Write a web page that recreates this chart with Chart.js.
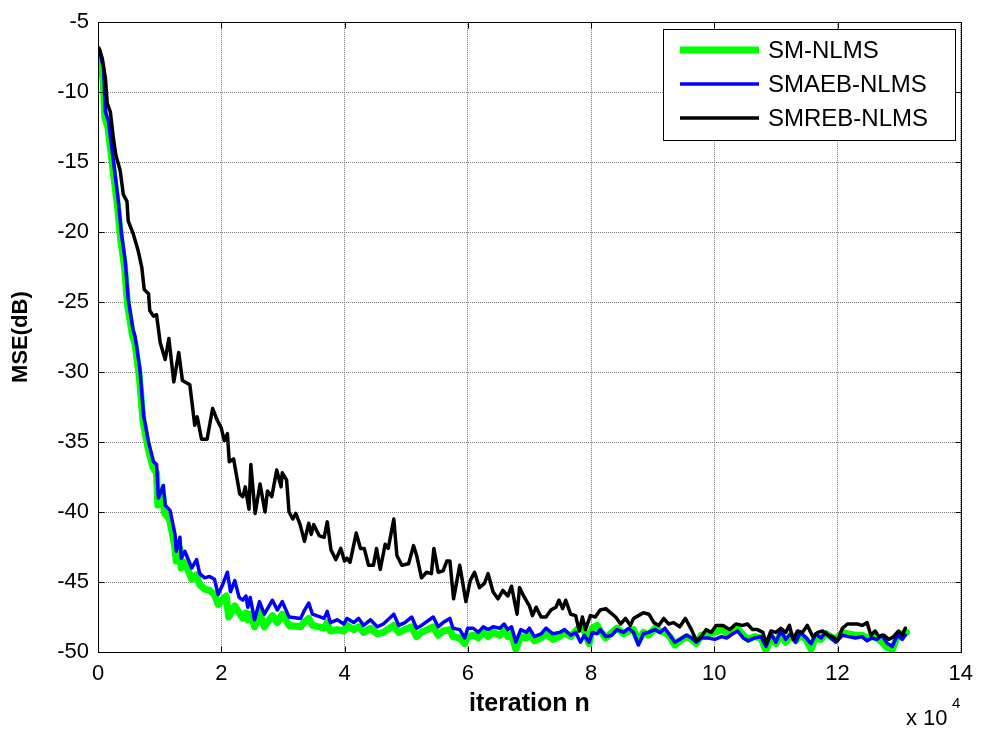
<!DOCTYPE html>
<html>
<head>
<meta charset="utf-8">
<title>MSE learning curves</title>
<script src="https://cdn.jsdelivr.net/npm/chart.js@4.4.1/dist/chart.umd.min.js"></script>
<style>
  html, body { margin: 0; padding: 0; background: #ffffff; }
  canvas { display: block; }
</style>
</head>
<body>
<canvas id="mse" width="982" height="731"></canvas>
<script>
// Iteration positions in units of 1e4 (the axis carries the "x 10^4" factor).
const smIter = [0.00,0.03,0.08,0.11,0.16,0.24,0.32,0.37,0.43,0.48,0.56,0.60,0.67,0.73,0.81,0.89,0.95,0.97,1.05,1.08,1.16,1.24,1.27,1.33,1.35,1.41,1.52,1.60,1.65,1.73,1.81,1.89,1.95,2.03,2.08,2.12,2.22,2.29,2.35,2.40,2.43,2.47,2.54,2.62,2.70,2.83,2.91,2.99,3.10,3.29,3.34,3.42,3.48,3.67,3.72,3.77,3.88,3.99,4.04,4.15,4.23,4.31,4.42,4.53,4.63,4.80,4.88,4.98,5.09,5.17,5.25,5.44,5.52,5.60,5.71,5.76,5.87,5.95,6.00,6.09,6.17,6.25,6.33,6.41,6.52,6.59,6.65,6.71,6.78,6.86,6.95,7.00,7.08,7.19,7.27,7.38,7.49,7.57,7.67,7.75,7.83,7.89,7.97,8.02,8.10,8.15,8.24,8.34,8.42,8.53,8.61,8.69,8.77,8.85,8.93,9.04,9.12,9.20,9.28,9.36,9.44,9.55,9.63,9.71,9.79,9.90,10.01,10.12,10.20,10.30,10.38,10.47,10.55,10.65,10.76,10.84,10.92,11.00,11.08,11.16,11.24,11.32,11.40,11.49,11.57,11.65,11.73,11.81,11.89,11.97,12.08,12.18,12.29,12.40,12.48,12.56,12.64,12.72,12.81,12.89,12.97,13.05,13.12];
const smMSE = [-7.0,-7.6,-9.0,-11.8,-12.5,-15.4,-18.3,-20.6,-22.5,-25.2,-27.4,-28.0,-30.3,-33.5,-35.4,-36.8,-37.2,-39.5,-38.8,-40.1,-40.5,-42.3,-43.5,-42.6,-44.0,-43.6,-44.8,-44.5,-45.2,-45.5,-45.6,-45.9,-46.6,-46.2,-46.0,-47.5,-46.7,-47.2,-47.6,-47.2,-47.7,-47.3,-48.2,-47.1,-48.2,-47.4,-47.9,-47.3,-48.1,-48.2,-47.9,-47.6,-48.1,-48.3,-47.9,-48.5,-48.4,-48.5,-48.1,-48.4,-48.2,-48.6,-48.3,-48.7,-48.6,-48.1,-48.6,-48.4,-48.2,-48.9,-48.6,-48.2,-48.8,-48.5,-48.4,-48.9,-49.0,-49.4,-48.9,-48.8,-49.0,-48.6,-48.9,-48.6,-48.8,-48.5,-48.9,-48.7,-49.8,-48.9,-49.0,-48.7,-49.2,-49.0,-48.7,-49.1,-48.9,-48.6,-48.9,-48.5,-48.2,-48.5,-49.4,-48.3,-48.1,-48.5,-49.0,-48.6,-48.3,-48.7,-48.5,-48.4,-49.2,-48.6,-48.8,-48.3,-48.5,-48.6,-48.9,-49.5,-49.2,-48.9,-49.1,-49.4,-48.8,-48.7,-48.6,-48.4,-48.6,-48.5,-48.3,-48.8,-49.1,-48.9,-49.0,-49.9,-48.9,-49.4,-48.7,-49.3,-48.8,-49.2,-48.8,-49.1,-49.8,-48.9,-49.1,-48.7,-48.9,-49.1,-48.6,-48.7,-48.8,-48.8,-49.0,-48.9,-49.0,-49.3,-49.7,-49.8,-48.9,-48.7,-48.6];

const smaebIter = [0.00,0.02,0.09,0.12,0.17,0.25,0.33,0.38,0.44,0.49,0.57,0.60,0.68,0.74,0.82,0.90,0.95,0.98,1.06,1.09,1.17,1.25,1.27,1.33,1.35,1.41,1.52,1.60,1.65,1.73,1.81,1.89,1.95,2.03,2.10,2.15,2.22,2.29,2.35,2.40,2.43,2.47,2.54,2.62,2.70,2.83,2.91,2.99,3.10,3.29,3.34,3.42,3.48,3.67,3.72,3.77,3.88,3.99,4.04,4.15,4.23,4.31,4.42,4.53,4.63,4.80,4.88,4.98,5.09,5.17,5.25,5.44,5.52,5.60,5.71,5.76,5.87,5.95,6.00,6.09,6.17,6.25,6.33,6.41,6.52,6.59,6.65,6.71,6.78,6.86,6.95,7.00,7.08,7.19,7.27,7.38,7.49,7.57,7.67,7.75,7.83,7.89,7.97,8.02,8.10,8.15,8.24,8.34,8.42,8.53,8.61,8.69,8.77,8.85,8.93,9.04,9.12,9.20,9.28,9.36,9.44,9.55,9.63,9.71,9.79,9.90,10.01,10.12,10.20,10.30,10.38,10.47,10.55,10.65,10.76,10.84,10.92,11.00,11.08,11.16,11.24,11.32,11.40,11.49,11.57,11.65,11.73,11.81,11.89,11.97,12.08,12.18,12.29,12.40,12.48,12.56,12.64,12.72,12.81,12.89,12.97,13.05,13.10];
const smaebMSE = [-6.8,-6.9,-8.3,-11.4,-12.1,-14.9,-17.8,-20.1,-22.0,-24.8,-27.0,-27.4,-29.8,-33.1,-35.0,-36.4,-36.6,-39.0,-38.1,-39.5,-39.9,-41.6,-42.8,-41.8,-43.3,-42.8,-44.0,-43.4,-44.4,-44.7,-44.6,-44.8,-45.9,-45.1,-44.3,-45.7,-44.9,-46.1,-46.3,-46.0,-46.8,-46.1,-47.7,-46.4,-47.3,-46.3,-47.0,-46.4,-47.5,-47.6,-47.1,-46.5,-47.3,-47.6,-47.1,-47.9,-47.7,-48.0,-47.6,-47.9,-47.6,-48.1,-47.7,-48.2,-48.0,-47.3,-48.1,-47.9,-47.5,-48.3,-48.1,-47.5,-48.2,-47.9,-47.6,-48.3,-48.4,-49.0,-48.3,-48.3,-48.6,-48.2,-48.4,-48.2,-48.3,-48.0,-48.4,-48.2,-49.3,-48.4,-48.6,-48.3,-48.9,-48.7,-48.3,-48.7,-48.6,-48.4,-48.8,-48.6,-49.3,-48.8,-49.3,-48.6,-48.7,-48.4,-48.9,-48.8,-48.4,-48.6,-48.3,-48.6,-49.5,-48.7,-48.6,-48.4,-48.6,-48.3,-48.8,-49.3,-49.1,-48.8,-49.0,-49.3,-49.0,-49.0,-49.1,-48.9,-49.0,-48.7,-48.5,-49.0,-49.2,-49.0,-48.9,-49.6,-48.7,-49.3,-48.5,-49.1,-48.7,-49.3,-48.6,-49.0,-49.4,-48.7,-49.0,-48.6,-49.0,-49.3,-48.8,-48.9,-49.0,-48.9,-49.2,-49.0,-49.1,-48.8,-49.4,-49.6,-48.8,-49.1,-48.8];

const smrebIter = [0.00,0.02,0.07,0.12,0.15,0.20,0.25,0.29,0.36,0.41,0.47,0.49,0.57,0.65,0.71,0.75,0.82,0.84,0.90,0.95,1.01,1.09,1.15,1.23,1.31,1.37,1.49,1.57,1.61,1.68,1.77,1.86,1.93,2.00,2.05,2.10,2.13,2.20,2.30,2.35,2.39,2.45,2.48,2.55,2.63,2.71,2.75,2.82,2.90,2.97,2.99,3.06,3.10,3.16,3.21,3.28,3.35,3.42,3.46,3.50,3.59,3.67,3.72,3.78,3.86,3.94,4.00,4.04,4.09,4.19,4.26,4.32,4.39,4.47,4.52,4.58,4.66,4.71,4.80,4.85,4.93,5.04,5.12,5.17,5.25,5.33,5.41,5.45,5.52,5.60,5.66,5.71,5.77,5.87,5.97,6.04,6.11,6.19,6.27,6.33,6.41,6.49,6.57,6.65,6.71,6.80,6.84,6.92,7.00,7.05,7.11,7.19,7.27,7.35,7.43,7.48,7.54,7.59,7.67,7.75,7.81,7.86,7.91,7.99,8.07,8.15,8.24,8.32,8.40,8.48,8.56,8.64,8.69,8.77,8.85,8.94,9.02,9.10,9.18,9.26,9.34,9.44,9.53,9.63,9.71,9.79,9.87,9.95,10.03,10.14,10.25,10.35,10.46,10.54,10.62,10.70,10.79,10.84,10.92,11.00,11.08,11.16,11.22,11.28,11.35,11.43,11.51,11.60,11.68,11.76,11.84,11.92,12.00,12.08,12.16,12.24,12.32,12.40,12.48,12.54,12.61,12.67,12.75,12.83,12.91,12.99,13.05,13.10];
const smrebMSE = [-6.8,-6.9,-7.6,-9.0,-10.8,-11.4,-13.3,-14.5,-15.6,-17.3,-17.8,-19.2,-20.1,-21.3,-22.5,-24.1,-24.4,-25.6,-26.0,-25.9,-27.9,-29.1,-27.6,-30.7,-28.6,-30.6,-30.9,-33.8,-33.2,-34.8,-34.8,-32.6,-33.4,-34.0,-34.9,-34.4,-36.4,-36.2,-38.7,-38.9,-38.2,-39.8,-36.6,-40.1,-38.0,-40.0,-38.5,-38.9,-37.0,-38.2,-37.2,-37.7,-40.0,-40.5,-40.1,-40.9,-42.1,-40.8,-41.6,-40.9,-41.7,-41.8,-40.7,-42.7,-43.4,-42.6,-43.5,-43.3,-43.6,-41.5,-42.6,-42.6,-43.8,-43.8,-42.6,-44.1,-42.3,-42.6,-40.5,-43.1,-43.8,-43.7,-42.4,-43.1,-44.7,-44.3,-44.4,-42.6,-44.3,-44.2,-43.5,-43.5,-46.2,-43.8,-46.4,-44.9,-44.3,-45.4,-45.1,-44.4,-45.7,-46.2,-45.6,-46.0,-45.3,-47.3,-45.4,-46.1,-46.7,-47.4,-46.8,-47.5,-47.5,-47.0,-46.8,-46.3,-46.9,-46.3,-47.3,-47.4,-48.5,-47.5,-48.4,-47.4,-47.5,-47.0,-46.9,-47.2,-47.5,-48.0,-47.6,-48.1,-47.6,-47.4,-47.2,-47.3,-47.9,-48.1,-47.6,-48.0,-47.9,-48.2,-47.6,-48.4,-49.2,-48.9,-48.4,-48.6,-48.1,-48.1,-48.4,-48.0,-48.1,-48.0,-48.4,-48.4,-48.6,-49.4,-48.5,-48.6,-48.3,-48.6,-48.1,-49.1,-48.5,-48.6,-48.1,-48.9,-48.6,-48.5,-48.8,-48.9,-49.2,-48.3,-48.0,-48.0,-48.0,-48.1,-47.9,-48.8,-48.5,-48.9,-48.8,-49.1,-48.9,-48.5,-48.8,-48.3];

const seriesNames = ['SM-NLMS', 'SMAEB-NLMS', 'SMREB-NLMS'];
const xTicks = [0, 2, 4, 6, 8, 10, 12, 14];
const yTicks = [-5, -10, -15, -20, -25, -30, -35, -40, -45, -50];

const FONT = "'Liberation Sans', Arial, Helvetica, sans-serif";

function points(xs, ys) {
  return xs.map((x, i) => ({ x: x, y: ys[i] }));
}

// Boxed axes with inward tick marks, the "x 10^4" multiplier and the legend.
const framePlugin = {
  id: 'frame',
  afterDraw(chart) {
    const ctx = chart.ctx;
    const a = chart.chartArea;
    const xs = chart.scales.x, ys = chart.scales.y;
    const L = Math.round(a.left) + 0.5, R = Math.round(a.right) + 0.5;
    const T = Math.round(a.top) + 0.5, B = Math.round(a.bottom) + 0.5;
    ctx.save();
    ctx.strokeStyle = '#000';
    ctx.lineWidth = 1;
    ctx.setLineDash([]);
    ctx.strokeRect(L, T, R - L, B - T);
    const tl = 6;
    ctx.beginPath();
    xTicks.forEach(v => {
      const px = Math.round(xs.getPixelForValue(v)) + 0.5;
      ctx.moveTo(px, B); ctx.lineTo(px, B - tl);
      ctx.moveTo(px, T); ctx.lineTo(px, T + tl);
    });
    yTicks.forEach(v => {
      const py = Math.round(ys.getPixelForValue(v)) + 0.5;
      ctx.moveTo(L, py); ctx.lineTo(L + tl, py);
      ctx.moveTo(R, py); ctx.lineTo(R - tl, py);
    });
    ctx.stroke();

    // axis multiplier
    ctx.fillStyle = '#000';
    ctx.textBaseline = 'alphabetic';
    ctx.textAlign = 'left';
    ctx.font = '22px ' + FONT;
    ctx.fillText('x 10', 906, 725);
    ctx.font = '15px ' + FONT;
    ctx.fillText('4', 952, 708);

    // legend
    const lx = 663.5, ly = 29.5, lw = 292, lh = 111;
    ctx.fillStyle = '#fff';
    ctx.fillRect(lx, ly, lw, lh);
    ctx.strokeStyle = '#000';
    ctx.lineWidth = 1;
    ctx.strokeRect(lx, ly, lw, lh);
    const rows = [50, 84, 118];
    ctx.font = '24px ' + FONT;
    ctx.textBaseline = 'middle';
    chart.data.datasets.forEach((ds, i) => {
      ctx.beginPath();
      ctx.strokeStyle = ds.borderColor;
      ctx.lineWidth = ds.borderWidth;
      ctx.lineCap = 'butt';
      ctx.moveTo(680, rows[i]);
      ctx.lineTo(759, rows[i]);
      ctx.stroke();
      ctx.fillStyle = '#000';
      ctx.fillText(ds.label, 768, rows[i] + 1);
    });
    ctx.restore();
  }
};

new Chart(document.getElementById('mse'), {
  type: 'line',
  data: {
    datasets: [
      { label: seriesNames[0], data: points(smIter, smMSE), borderColor: '#00ff00', borderWidth: 7, order: 2 },
      { label: seriesNames[1], data: points(smaebIter, smaebMSE), borderColor: '#0000ff', borderWidth: 3.5, order: 1 },
      { label: seriesNames[2], data: points(smrebIter, smrebMSE), borderColor: '#000000', borderWidth: 3.5, order: 0 }
    ]
  },
  options: {
    responsive: false,
    animation: false,
    events: [],
    layout: { padding: { top: 16, right: 16, left: 0, bottom: 0 } },
    elements: {
      point: { radius: 0 },
      line: { tension: 0, borderJoinStyle: 'round', borderCapStyle: 'round', fill: false }
    },
    plugins: { legend: { display: false }, tooltip: { enabled: false } },
    scales: {
      x: {
        type: 'linear',
        min: 0, max: 14,
        afterFit: s => { s.height = 79; },
        afterBuildTicks: s => { s.ticks = xTicks.map(v => ({ value: v })); },
        ticks: { color: '#000', font: { family: FONT, size: 22 }, padding: 9, maxRotation: 0 },
        grid: { color: '#7a7a7a', lineWidth: 1, drawTicks: false },
        border: { display: false, dash: [1, 1] },
        title: { display: true, text: 'iteration n', color: '#000', font: { family: FONT, size: 25, weight: 'bold' }, padding: { top: 0, bottom: 12 } }
      },
      y: {
        type: 'linear',
        min: -50, max: -5,
        afterFit: s => { s.width = 98; },
        afterBuildTicks: s => { s.ticks = yTicks.map(v => ({ value: v })); },
        ticks: { color: '#000', font: { family: FONT, size: 22 }, padding: 9 },
        grid: { color: '#7a7a7a', lineWidth: 1, drawTicks: false },
        border: { display: false, dash: [1, 1] },
        title: { display: true, text: 'MSE(dB)', color: '#000', font: { family: FONT, size: 22, weight: 'bold' }, padding: { top: 8, bottom: 0 } }
      }
    }
  },
  plugins: [framePlugin]
});
</script>
</body>
</html>
